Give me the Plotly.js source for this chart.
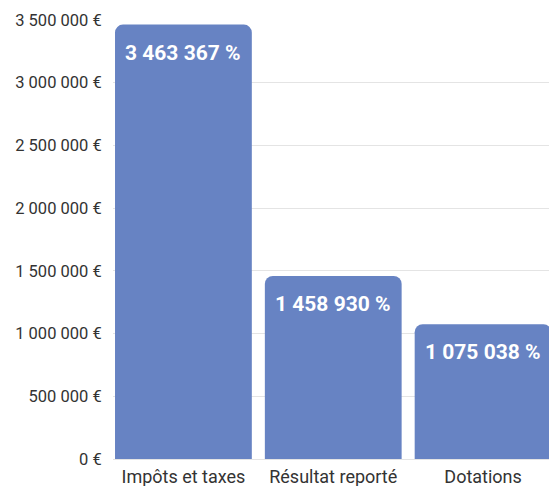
<!DOCTYPE html>
<html><head><meta charset="utf-8">
<script src="https://cdn.plot.ly/plotly-3.0.1.min.js"></script>
<style>html,body{margin:0;padding:0;background:#fff}</style>
</head><body>
<div id="chart" style="width:549px;height:486px"></div>
<script>
const categories = ["Impôts et taxes", "Résultat reporté", "Dotations"];
const values = [3463367, 1458930, 1075038];
const labels = ["3 463 367 %", "1 458 930 %", "1 075 038 %"];
const tickValues = [0, 500000, 1000000, 1500000, 2000000, 2500000, 3000000, 3500000];
const tickLabels = ["0 €", "500 000 €", "1 000 000 €", "1 500 000 €", "2 000 000 €", "2 500 000 €", "3 000 000 €", "3 500 000 €"];

const trace = {
  type: "bar",
  x: categories,
  y: values,
  marker: {color: "#6783c3"},
  hoverinfo: "skip"
};

const annotations = categories.map((c, i) => ({
  x: c, y: values[i], xref: "x", yref: "y",
  text: "<b>" + labels[i] + "</b>",
  showarrow: false, yanchor: "middle", yshift: -28,
  font: {family: "Roboto", size: 21, color: "#ffffff"}
}));

const layout = {
  width: 549, height: 486,
  margin: {l: 113, r: 0, t: 20, b: 27},
  paper_bgcolor: "#ffffff", plot_bgcolor: "#ffffff",
  bargap: 0.087,
  barcornerradius: 8,
  showlegend: false,
  font: {family: "Roboto", color: "#333333"},
  xaxis: {
    range: [-0.47, 2.44],
    showgrid: false, zeroline: false, showline: false,
    ticks: "outside", ticklen: 1, tickcolor: "rgba(0,0,0,0)",
    tickfont: {size: 18, color: "#333333"},
    automargin: false,
    fixedrange: true
  },
  yaxis: {
    range: [0, 3500000],
    tickmode: "array",
    tickvals: tickValues,
    ticktext: tickLabels,
    showgrid: true, gridcolor: "#e4e4e4", gridwidth: 1,
    zeroline: true, zerolinecolor: "#e4e4e4",
    ticks: "outside", ticklen: 7, tickcolor: "rgba(0,0,0,0)",
    tickfont: {size: 16.5, color: "#333333"},
    fixedrange: true
  },
  annotations: annotations
};

Plotly.newPlot("chart", [trace], layout, {displayModeBar: false, staticPlot: true});
</script>
</body></html>
